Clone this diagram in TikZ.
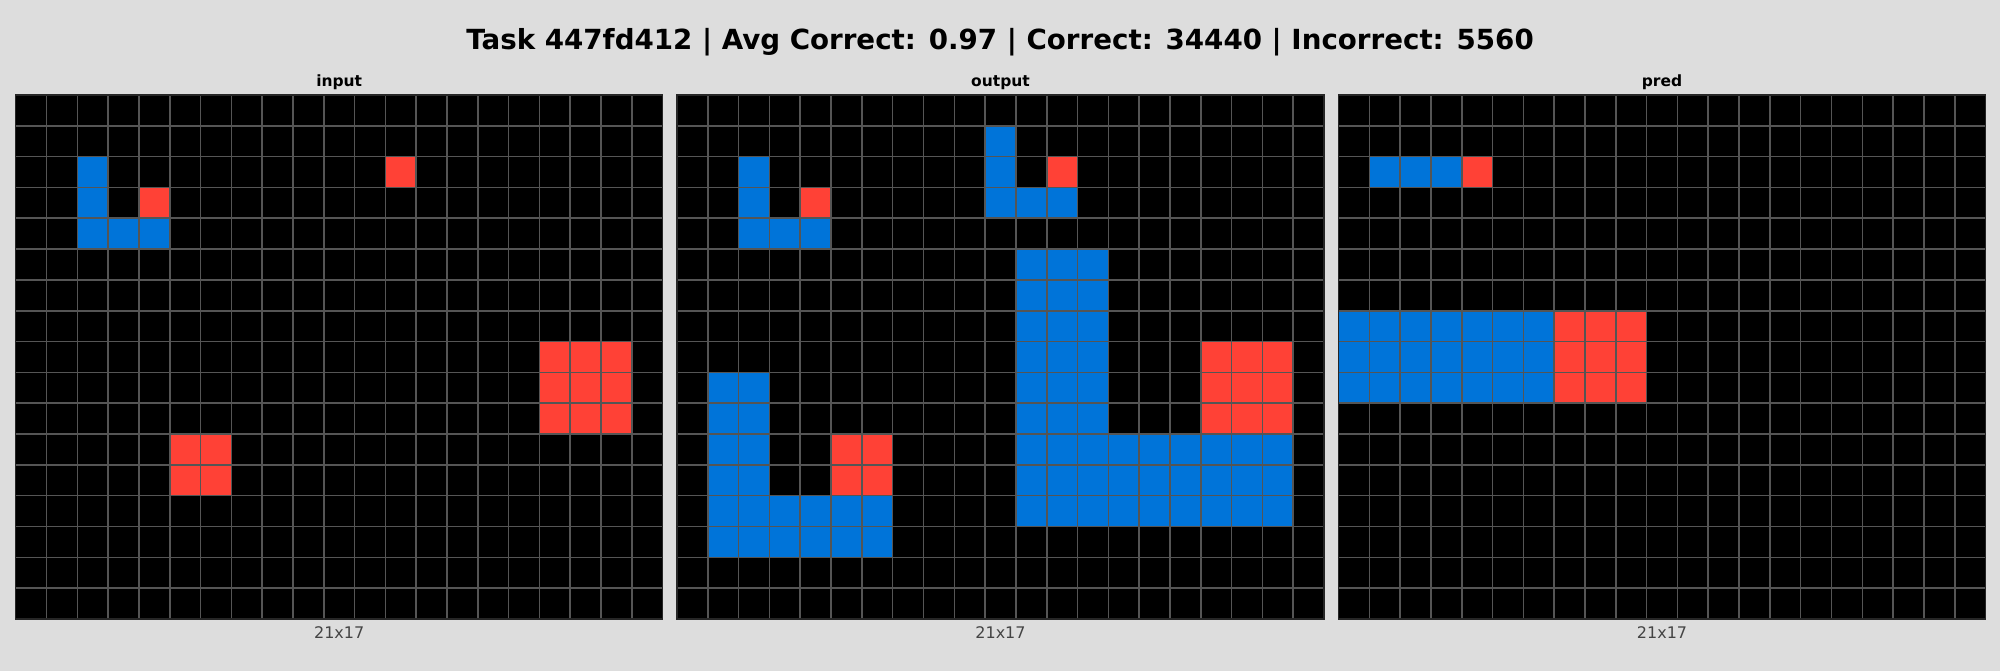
\documentclass[tikz,border=0pt]{standalone}
\usepackage{fontspec}
\setmainfont{DejaVu Sans}
\definecolor{bgc}{HTML}{DDDDDD}
\definecolor{arcblue}{HTML}{0074D9}
\definecolor{arcred}{HTML}{FF4136}
\definecolor{gline}{HTML}{555555}
\definecolor{lblc}{HTML}{444444}
\tikzset{
  gridline/.style={gline, line width=0.8pt},
  gridframe/.style={draw=black!85, line width=0.6pt},
  titletext/.style={anchor=base, font=\fontsize{13.85pt}{16pt}\selectfont\bfseries},
  subtitle/.style={anchor=base, font=\fontsize{7.75pt}{9pt}\selectfont\bfseries},
  sizelabel/.style={anchor=base, text=lblc, font=\fontsize{8pt}{9pt}\selectfont},
}
\newcommand\arcgrid[3]{%
\begin{scope}[shift={(#1,95)}]
  \fill[black] (0,0) rectangle (647,524);
  \foreach \ca/\ra/\cb/\rb in {#2}
    \fill[arcblue] (\ca*30.81,\ra*30.82) rectangle ({(\cb+1)*30.81},{(\rb+1)*30.82});
  \foreach \ca/\ra/\cb/\rb in {#3}
    \fill[arcred] (\ca*30.81,\ra*30.82) rectangle ({(\cb+1)*30.81},{(\rb+1)*30.82});
  \foreach \i in {1,...,20}
    \draw[gridline] (\i*30.81,0) -- (\i*30.81,524);
  \foreach \j in {1,...,16}
    \draw[gridline] (0,\j*30.82) -- (647,\j*30.82);
  \draw[gridframe] (0,0) rectangle (647,524);
\end{scope}}
\begin{document}
\begin{tikzpicture}[x=0.5pt,y=-0.5pt]
\fill[bgc] (0,0) rectangle (2000,671);
\useasboundingbox (0,0) rectangle (2000,671);

\node[titletext] (title) at (1000,49.5) {Task 447fd412 | Avg Correct: 0.97 | Correct: 34440 | Incorrect: 5560};

\arcgrid{15.7}{2/2/2/4, 3/4/4/4}{4/3/4/3, 12/2/12/2, 17/8/19/10, 5/11/6/12}
\arcgrid{677}{2/2/2/4, 3/4/4/4, 10/1/10/3, 11/3/12/3, 11/5/13/13, 14/11/19/13, 1/9/2/14, 3/13/6/14}{4/3/4/3, 12/2/12/2, 17/8/19/10, 5/11/6/12}
\arcgrid{1338.5}{1/2/3/2, 0/7/6/9}{4/2/4/2, 7/7/9/9}

\node[subtitle] (t1) at (339.2,86.7) {input};
\node[subtitle] (t2) at (1000.5,86.7) {output};
\node[subtitle] (t3) at (1662,86.7) {pred};

\node[sizelabel] (s1) at (339.2,638.3) {21x17};
\node[sizelabel] (s2) at (1000.5,638.3) {21x17};
\node[sizelabel] (s3) at (1662,638.3) {21x17};
\end{tikzpicture}
\end{document}
